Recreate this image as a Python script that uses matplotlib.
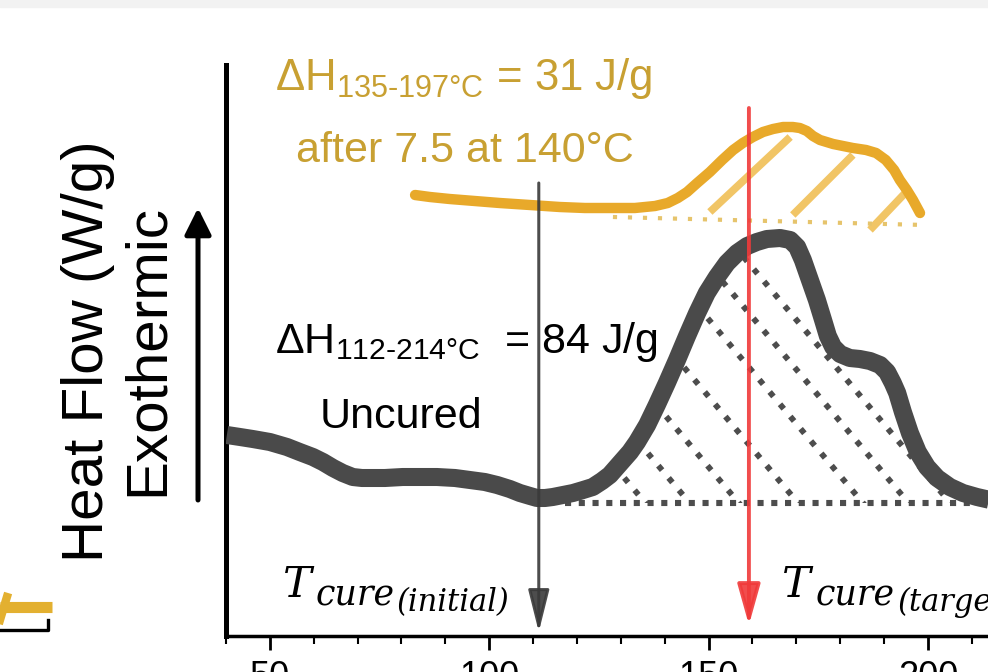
import numpy as np
import matplotlib.pyplot as plt
from matplotlib.patches import Polygon, Rectangle
from matplotlib.lines import Line2D
from matplotlib.ticker import MultipleLocator

plt.rcParams['font.family'] = ['Liberation Sans', 'DejaVu Sans']
plt.rcParams['mathtext.fontset'] = 'custom'
plt.rcParams['mathtext.rm'] = 'Liberation Sans'

# uncured sample (DSC trace)
temp_uncured = [40.2, 43.2, 46.1, 50.0, 53.9, 56.8, 59.8, 62.1, 64.4, 66.6,
                68.9, 71.0, 72.8, 76.2, 80.3, 84.2, 88.1, 92.2, 95.6, 99.0,
                101.8, 104.7, 107.0, 109.3, 110.9, 112.7, 114.5, 116.8, 119.1, 121.4,
                123.6, 125.7, 127.5, 129.1, 130.5, 132.1, 133.7, 136.0, 138.2, 140.5,
                142.8, 145.1, 147.4, 149.6, 151.9, 154.2, 156.5, 158.8, 161.0, 163.3,
                166.3, 168.6, 170.2, 171.5, 173.1, 174.7, 176.1, 177.2, 178.4, 180.0,
                182.2, 184.5, 186.8, 189.1, 190.7, 192.0, 193.0, 194.3, 195.9, 197.7,
                199.8, 202.1, 205.0, 208.0, 211.2, 214.2]
flow_uncured = [2.01, 1.99, 1.97, 1.94, 1.89, 1.84, 1.79, 1.74, 1.68, 1.63,
                1.59, 1.58, 1.58, 1.58, 1.59, 1.59, 1.59, 1.58, 1.56, 1.54,
                1.51, 1.47, 1.43, 1.40, 1.38, 1.38, 1.39, 1.41, 1.43, 1.46,
                1.49, 1.55, 1.61, 1.69, 1.76, 1.84, 1.94, 2.11, 2.31, 2.53,
                2.76, 3.00, 3.23, 3.43, 3.59, 3.73, 3.83, 3.90, 3.94, 3.97,
                3.98, 3.96, 3.89, 3.76, 3.56, 3.36, 3.16, 3.00, 2.89, 2.82,
                2.78, 2.77, 2.75, 2.71, 2.64, 2.53, 2.43, 2.24, 2.03, 1.84,
                1.69, 1.58, 1.49, 1.43, 1.39, 1.36]
base_uncured_x = [117.3, 214.2]
base_uncured_y = [1.33, 1.33]
# where the dotted hatch lines meet the baseline
hatch_uncured = [135.6, 145.7, 156.9, 170.4, 185.2, 195.6, 205.1]

# after 7.5 at 140 C
temp_cured = [83.1, 86.5, 91.0, 96.7, 102.4, 109.3, 116.1, 121.8, 127.5, 133.2,
              137.8, 140.7, 143.0, 145.1, 147.4, 150.3, 153.1, 155.6, 157.8, 160.1,
              162.4, 164.7, 167.0, 169.2, 170.8, 172.4, 173.8, 175.4, 178.4, 182.9,
              185.9, 188.2, 190.4, 192.3, 193.6, 195.2, 196.6, 198.2]
flow_cured = [4.41, 4.39, 4.37, 4.35, 4.33, 4.31, 4.29, 4.28, 4.28, 4.28,
              4.30, 4.33, 4.38, 4.44, 4.53, 4.64, 4.76, 4.86, 4.93, 4.99,
              5.04, 5.07, 5.09, 5.09, 5.08, 5.05, 5.00, 4.96, 4.92, 4.88,
              4.86, 4.83, 4.76, 4.66, 4.56, 4.46, 4.36, 4.23]
base_cured_x = [128.2, 199.3]
base_cured_y = [4.19, 4.11]
hatch_cured_x0 = [150.3, 169.2, 186.8]
hatch_cured_y0 = [4.24, 4.21, 4.06]
hatch_cured_x1 = [168.6, 182.9, 195.9]
hatch_cured_y1 = [4.99, 4.81, 4.48]

t_initial = 111.3
t_target = 159.2

fig = plt.figure(figsize=(9.88, 6.72), dpi=100)
ax = fig.add_axes([226/988, 36/672, 1 - 226/988, (636-65)/672])
ax.set_xlim(40, 213.7)
ax.set_ylim(0, 5.71)

# grey strip on top and bits of the neighbouring panel
fig.patches.append(Rectangle((0, 1 - 7/672), 1, 7/672, color='#f2f2f2',
                             transform=fig.transFigure, zorder=0))
fig.add_artist(Line2D([0.0, 52/988], [1 - 607/672, 1 - 607/672], color='#e3b030',
                      lw=8, solid_capstyle='butt'))
fig.add_artist(Line2D([0.0, 0.007], [1 - 620/672, 1 - 597/672], color='#e3b030', lw=6))
fig.add_artist(Line2D([0.0, 48/988, 48/988], [1 - 630/672, 1 - 630/672, 1 - 620/672],
                      color='black', lw=2.4))

# uncured: hatched area
clip_x = [base_uncured_x[0]] + [t for t in temp_uncured if t > base_uncured_x[0]]
clip_y = [base_uncured_y[0]] + [f for t, f in zip(temp_uncured, flow_uncured) if t > base_uncured_x[0]]
clip_poly = Polygon(np.column_stack([clip_x + [base_uncured_x[1]], clip_y + [base_uncured_y[1]]]),
                    closed=True, facecolor='none', edgecolor='none', transform=ax.transData)
ax.add_patch(clip_poly)
slope = -0.0522
for xb in hatch_uncured:
    xs = np.array([xb - 110, xb + 2])
    ln, = ax.plot(xs, base_uncured_y[0] + slope * (xs - xb), color='#4d4d4d', lw=4.2,
                  linestyle=(0, (1, 1.75)), dash_capstyle='butt', zorder=2)
    ln.set_clip_path(clip_poly)
ax.plot(base_uncured_x, base_uncured_y, color='#4d4d4d', lw=4.4,
        linestyle=(0, (1, 1.25)), dash_capstyle='butt', zorder=2)
ax.plot(temp_uncured, flow_uncured, color='#4a4a4a', lw=13, solid_joinstyle='round',
        solid_capstyle='butt', zorder=3)

# cured: hatched area
for x0, y0, x1, y1 in zip(hatch_cured_x0, hatch_cured_y0, hatch_cured_x1, hatch_cured_y1):
    ax.plot([x0, x1], [y0, y1], color='#f0bf55', lw=5.5, alpha=0.9,
            solid_capstyle='butt', zorder=2)
ax.plot(base_cured_x, base_cured_y, color='#e6c46c', lw=3,
        linestyle=(0, (1, 2.6)), dash_capstyle='butt', zorder=2)
ax.plot(temp_cured, flow_cured, color='#e8a92a', lw=7.5, solid_joinstyle='round',
        solid_capstyle='round', zorder=3)

# cure temperature arrows
ax.annotate('', xy=(t_initial, 0.04), xytext=(t_initial, 4.53),
            arrowprops=dict(arrowstyle='-|>,head_length=2.6,head_width=0.65',
                            mutation_scale=10, lw=2.2, color='#3a3a3a', alpha=0.9,
                            shrinkA=0, shrinkB=0), zorder=4)
ax.annotate('', xy=(t_target, 0.11), xytext=(t_target, 5.28),
            arrowprops=dict(arrowstyle='-|>,head_length=2.5,head_width=0.7',
                            mutation_scale=10, lw=2.8, color='#f03a3a', alpha=0.9,
                            shrinkA=0, shrinkB=0), zorder=4)

# annotations
gold = '#c8a032'
ax.text(51.1, 5.46, r'ΔH$_{\mathregular{135‐197°C}}$ = 31 J/g', color=gold,
        fontsize=31.5, va='baseline', ha='left')
ax.text(94.5, 4.74, 'after 7.5 at 140°C', color=gold, fontsize=31,
        va='baseline', ha='center')
ax.text(51.1, 2.83, r'ΔH$_{\mathregular{112‐214°C}}$  = 84 J/g', color='black',
        fontsize=31, va='baseline', ha='left', zorder=1)
ax.text(79.9, 2.08, 'Uncured', color='black', fontsize=31, va='baseline', ha='center')

serif = dict(family='DejaVu Serif', style='italic', va='baseline', ha='left')
for x_t, x_c, x_s, sub in [(53.0, 60.5, 79.0, '(initial)'), (166.7, 174.3, 193.0, '(target)')]:
    ax.text(x_t, 0.39, 'T', fontsize=31, **serif)
    ax.text(x_c, 0.31, 'cure', fontsize=25, **serif)
    ax.text(x_s, 0.25, sub, fontsize=22, **serif)

# axis labels and exotherm arrow
fig.text(88/988, 1 - 351/672, 'Heat Flow (W/g)', rotation=90, fontsize=42,
         ha='center', va='center')
fig.text(148/988, 1 - 350/672, 'Exothermic', rotation=90, fontsize=42,
         ha='center', va='center')
ax.annotate('', xy=(198, 672 - 208), xytext=(198, 672 - 500), xycoords='figure pixels',
            textcoords='figure pixels',
            arrowprops=dict(arrowstyle='-|>,head_length=1.6,head_width=0.8',
                            mutation_scale=10, lw=3.6, color='black',
                            shrinkA=0, shrinkB=0))

for side in ['top', 'right']:
    ax.spines[side].set_visible(False)
ax.spines['left'].set_linewidth(3.6)
ax.spines['bottom'].set_linewidth(2.5)
ax.set_yticks([])
ax.xaxis.set_major_locator(MultipleLocator(50))
ax.xaxis.set_minor_locator(MultipleLocator(10))
ax.tick_params(axis='x', which='major', length=10, width=2, labelsize=26, pad=7)
ax.tick_params(axis='x', which='minor', length=6, width=1.5)

fig.savefig('out.png', dpi=100)
